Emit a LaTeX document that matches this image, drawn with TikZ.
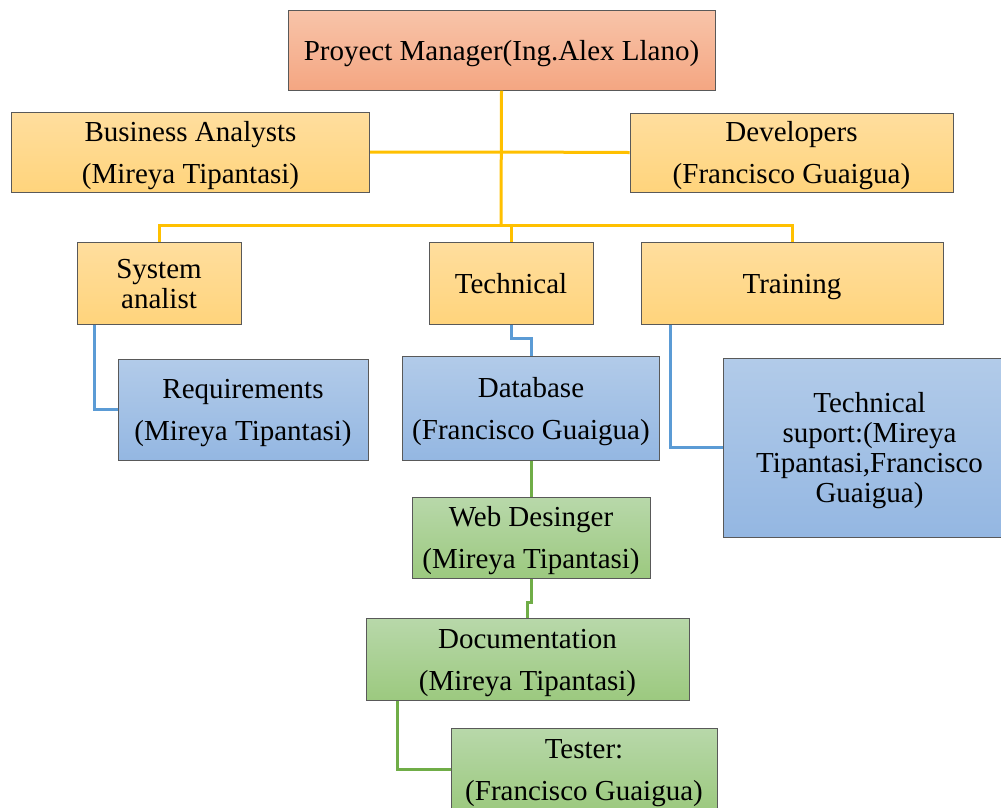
\documentclass[tikz,border=0pt]{standalone}
\usepackage{fontspec}
\setmainfont{Liberation Serif}
\usepackage[dvipsnames]{xcolor}
\usepackage{tikz}
\usetikzlibrary{calc, positioning}

\definecolor{pmtop}{HTML}{F8C4A9}
\definecolor{pmbot}{HTML}{F4A682}
\definecolor{yltop}{HTML}{FFDE9E}
\definecolor{ylbot}{HTML}{FFD47C}
\definecolor{bltop}{HTML}{B2CBE9}
\definecolor{blbot}{HTML}{94B7E2}
\definecolor{grtop}{HTML}{B8D8AA}
\definecolor{grbot}{HTML}{9CC97F}
\definecolor{yline}{HTML}{FFC000}
\definecolor{bline}{HTML}{5B9BD5}
\definecolor{gline}{HTML}{70AD47}
\newcommand{\tp}{\rule{0pt}{26.5pt}}
\newcommand{\bt}{\rule[-6.5pt]{0pt}{6.5pt}}

\begin{document}
\begin{tikzpicture}[x=1pt, y=-1pt,
        box/.style={draw=black!65, line width=1pt, inner sep=0pt, align=center,
            font=\fontsize{29}{42}\selectfont},
        pmbox/.style={box, top color=pmtop, bottom color=pmbot},
        ylbox/.style={box, top color=yltop, bottom color=ylbot},
        blbox/.style={box, top color=bltop, bottom color=blbot},
        grbox/.style={box, top color=grtop, bottom color=grbot},
        link/.style={line width=3pt}]
            \useasboundingbox (0,0) rectangle (1001,807);
            \node[pmbox, minimum width=427, minimum height=80] (pm) at (501.5,50) {\tp Proyect Manager(Ing.Alex Llano)\bt};
            \node[ylbox, minimum width=358, minimum height=80] (ba) at (190.5,152) {\tp Business Analysts\\(Mireya Tipantasi)\bt};
            \node[ylbox, minimum width=323, minimum height=79] (dev) at (791.5,152.5) {\tp Developers\\(Francisco Guaigua)\bt};
            \node[ylbox, minimum width=164, minimum height=82, font=\fontsize{29}{30}\selectfont] (sys) at (159,283) {\tp System\\analist\bt};
            \node[ylbox, minimum width=164, minimum height=82] (tec) at (511,283) {\tp Technical\bt};
            \node[ylbox, minimum width=302, minimum height=82] (trn) at (792,283) {\tp Training\bt};
            \node[blbox, minimum width=250, minimum height=101] (req) at (243,409.5) {\tp Requirements\\(Mireya Tipantasi)\bt};
            \node[blbox, minimum width=257, minimum height=104] (db) at (531,408) {\tp Database\\(Francisco Guaigua)\bt};
            \node[blbox, minimum width=293, minimum height=179, font=\fontsize{29}{30}\selectfont] (sup) at (869.5,447.5) {\tp Technical\\suport:(Mireya\\Tipantasi,Francisco\\Guaigua)\bt};
            \node[grbox, minimum width=238, minimum height=81] (web) at (531,537.5) {\tp Web Desinger\\(Mireya Tipantasi)\bt};
            \node[grbox, minimum width=323, minimum height=82] (doc) at (527.5,659) {\tp Documentation\\(Mireya Tipantasi)\bt};
            \node[grbox, minimum width=266, minimum height=82] (tst) at (584,769) {\tp Tester:\\(Francisco Guaigua)\bt};
            \coordinate (bus) at (501,225);

            \draw[link, yline] (pm.south) -- (bus);
            \draw[link, yline] (ba.east) -- (ba.east -| pm.south) -- (dev.west);
            \draw[link, yline] (sys.north) -- (sys.north |- bus) -- (trn.north |- bus) -- (trn.north);
            \draw[link, yline] (tec.north) -- (tec.north |- bus);
            \draw[link, bline] ([xshift=17.5pt]sys.south west) |- (req.west);
            \draw[link, bline] (tec.south) -- ++(0,14) -| (db.north);
            \draw[link, bline] ([xshift=30pt]trn.south west) |- (sup.west);
            \draw[link, gline] (db.south) -- (web.north);
            \draw[link, gline] (web.south) -- ++(0,24) -| (doc.north);
            \draw[link, gline] ([xshift=32pt]doc.south west) |- (tst.west);
        \end{tikzpicture}
\end{document}
